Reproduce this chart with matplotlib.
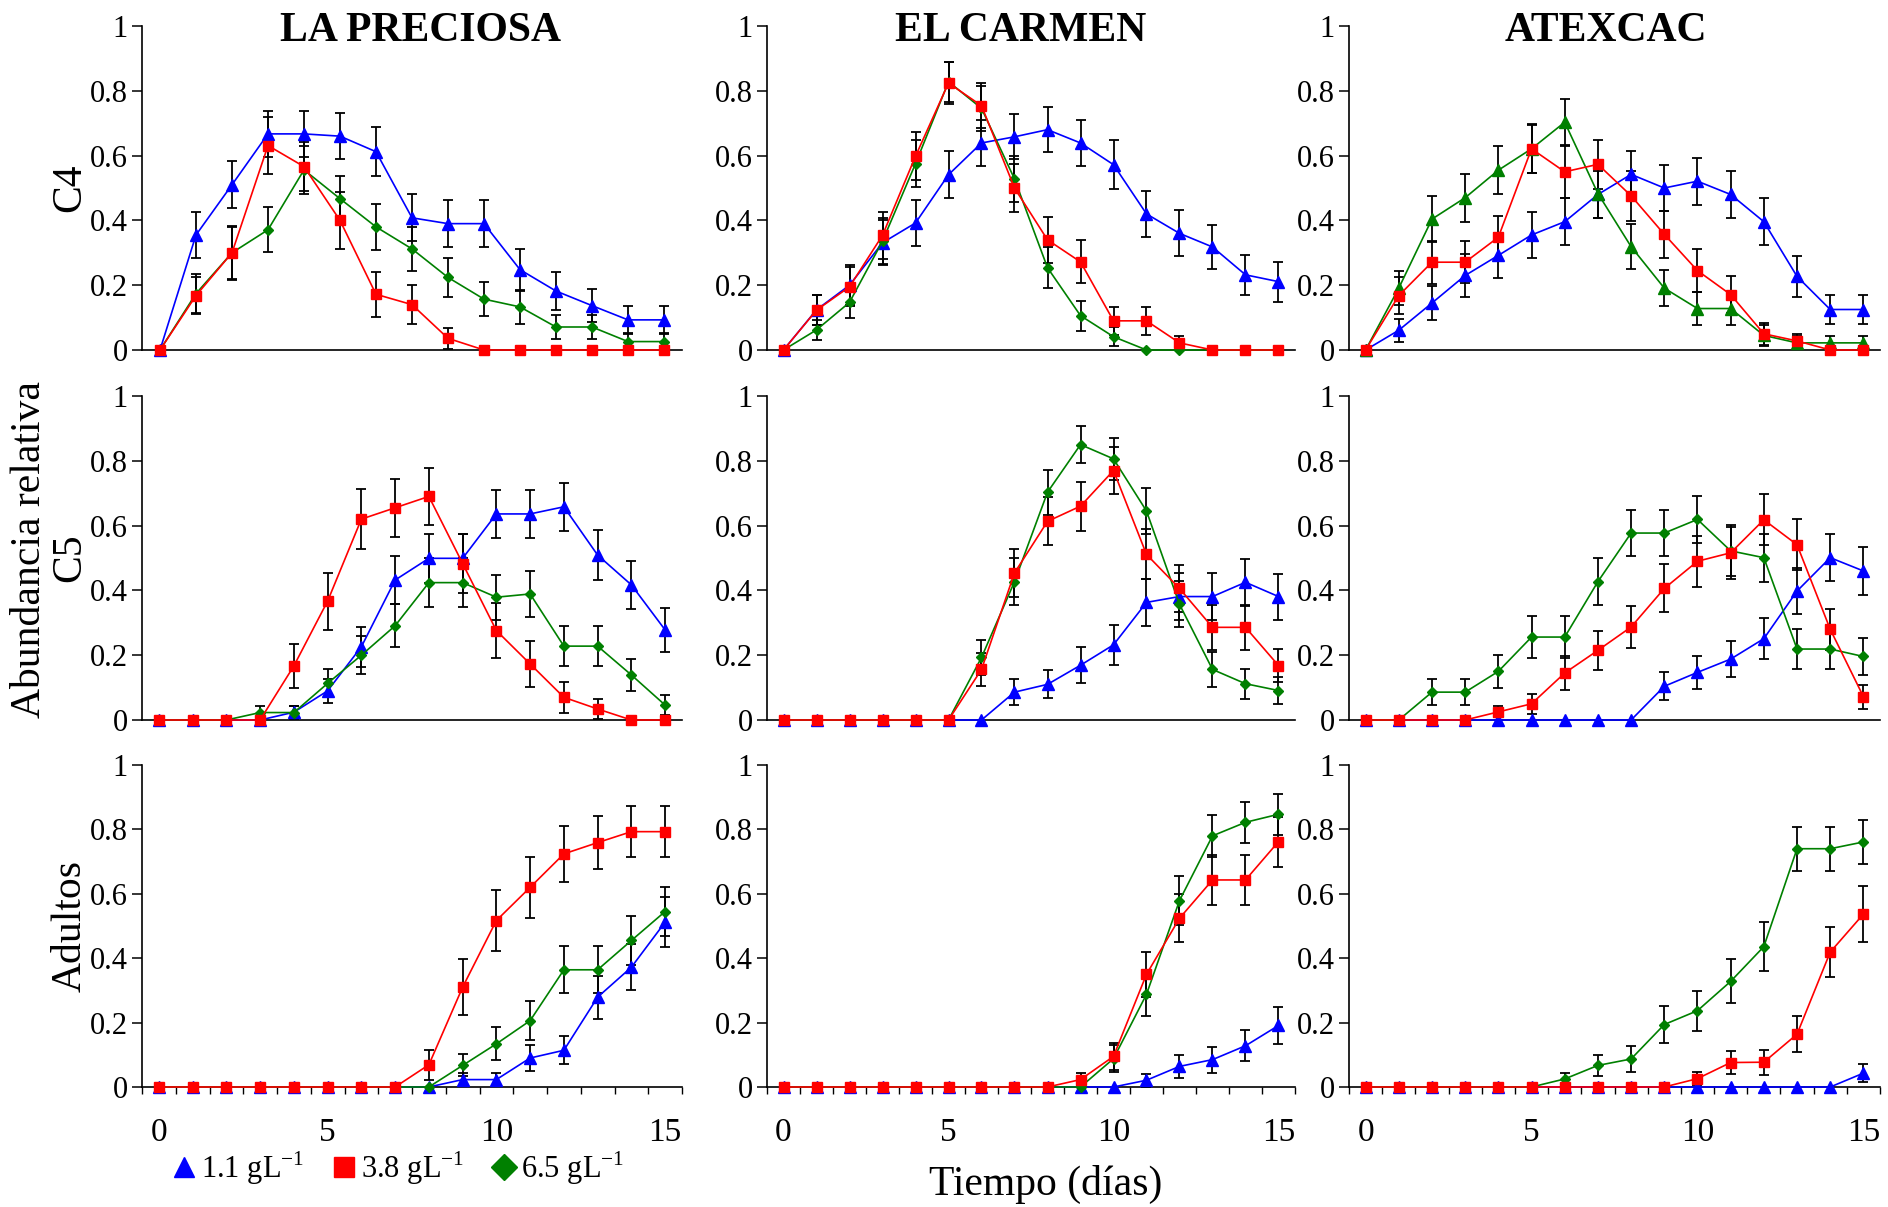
import numpy as np
import matplotlib
matplotlib.use('Agg')
import matplotlib.pyplot as plt
from matplotlib.lines import Line2D
from matplotlib.ticker import FormatStrFormatter

plt.rcParams['font.family'] = ['Liberation Serif', 'DejaVu Serif']
plt.rcParams['mathtext.fontset'] = 'custom'
plt.rcParams['mathtext.rm'] = 'Liberation Serif'

sites = ['LA PRECIOSA', 'EL CARMEN', 'ATEXCAC']
stages = ['C4', 'C5', 'Adultos']
conc_labels = [r'1.1 gL$^{\mathregular{-1}}$', r'3.8 gL$^{\mathregular{-1}}$', r'6.5 gL$^{\mathregular{-1}}$']
x_ticklabels = ['0', '5', '10', '15']

# ---- C4 ----
lp_c4_11 = [0, 0.355, 0.51, 0.667, 0.667, 0.66, 0.612, 0.408, 0.39, 0.39, 0.248, 0.182, 0.137, 0.093, 0.093]
lp_c4_11_err = [0, 0.07, 0.072, 0.072, 0.072, 0.072, 0.075, 0.072, 0.072, 0.072, 0.065, 0.06, 0.05, 0.043, 0.043]
lp_c4_38 = [0, 0.168, 0.30, 0.631, 0.566, 0.40, 0.172, 0.14, 0.036, 0, 0, 0, 0, 0, 0]
lp_c4_38_err = [0, 0.058, 0.084, 0.089, 0.075, 0.088, 0.07, 0.06, 0.033, 0, 0, 0, 0, 0, 0]
lp_c4_65 = [0, 0.174, 0.30, 0.371, 0.556, 0.467, 0.38, 0.312, 0.224, 0.157, 0.133, 0.071, 0.071, 0.026, 0.026]
lp_c4_65_err = [0, 0.06, 0.08, 0.07, 0.075, 0.07, 0.07, 0.068, 0.06, 0.052, 0.052, 0.037, 0.037, 0.025, 0.025]

ec_c4_11 = [0, 0.124, 0.20, 0.331, 0.392, 0.541, 0.639, 0.658, 0.68, 0.639, 0.572, 0.42, 0.36, 0.318, 0.232, 0.211]
ec_c4_11_err = [0, 0.046, 0.062, 0.07, 0.07, 0.073, 0.072, 0.07, 0.07, 0.072, 0.075, 0.072, 0.071, 0.068, 0.062, 0.062]
ec_c4_38 = [0, 0.123, 0.195, 0.354, 0.598, 0.824, 0.754, 0.50, 0.34, 0.272, 0.09, 0.09, 0.022, 0, 0, 0]
ec_c4_38_err = [0, 0.046, 0.06, 0.072, 0.074, 0.064, 0.07, 0.075, 0.07, 0.066, 0.043, 0.043, 0.022, 0, 0, 0]
ec_c4_65 = [0, 0.062, 0.147, 0.336, 0.575, 0.828, 0.746, 0.528, 0.254, 0.106, 0.041, 0, 0, 0, 0, 0]
ec_c4_65_err = [0, 0.03, 0.048, 0.07, 0.072, 0.062, 0.07, 0.072, 0.064, 0.046, 0.03, 0, 0, 0, 0, 0]

at_c4_11 = [0, 0.061, 0.145, 0.23, 0.292, 0.355, 0.396, 0.48, 0.542, 0.50, 0.521, 0.48, 0.396, 0.227, 0.125, 0.125]
at_c4_11_err = [0, 0.035, 0.052, 0.065, 0.069, 0.071, 0.072, 0.074, 0.072, 0.072, 0.072, 0.074, 0.072, 0.062, 0.046, 0.046]
at_c4_38 = [0, 0.168, 0.271, 0.271, 0.348, 0.621, 0.55, 0.573, 0.476, 0.357, 0.245, 0.171, 0.05, 0.028, 0, 0]
at_c4_38_err = [0, 0.056, 0.066, 0.065, 0.066, 0.075, 0.08, 0.075, 0.078, 0.072, 0.066, 0.058, 0.034, 0.02, 0, 0]
at_c4_65 = [0, 0.191, 0.404, 0.47, 0.555, 0.621, 0.703, 0.483, 0.319, 0.191, 0.128, 0.128, 0.045, 0.022, 0.022, 0.022]
at_c4_65_err = [0, 0.053, 0.071, 0.074, 0.074, 0.074, 0.071, 0.075, 0.07, 0.056, 0.05, 0.05, 0.033, 0.02, 0.02, 0.02]

# ---- C5 ----
lp_c5_11 = [0, 0, 0, 0, 0.024, 0.09, 0.226, 0.432, 0.499, 0.499, 0.636, 0.636, 0.658, 0.509, 0.417, 0.278]
lp_c5_11_err = [0, 0, 0, 0, 0.02, 0.038, 0.062, 0.075, 0.075, 0.075, 0.075, 0.075, 0.075, 0.076, 0.074, 0.068]
lp_c5_38 = [0, 0, 0, 0, 0.167, 0.367, 0.62, 0.655, 0.69, 0.483, 0.276, 0.173, 0.07, 0.034, 0, 0]
lp_c5_38_err = [0, 0, 0, 0, 0.068, 0.088, 0.092, 0.09, 0.088, 0.09, 0.084, 0.07, 0.047, 0.032, 0, 0]
lp_c5_65 = [0, 0, 0, 0.023, 0.023, 0.113, 0.2, 0.291, 0.424, 0.424, 0.379, 0.389, 0.228, 0.228, 0.139, 0.046]
lp_c5_65_err = [0, 0, 0, 0.02, 0.02, 0.043, 0.059, 0.067, 0.075, 0.075, 0.07, 0.071, 0.062, 0.062, 0.05, 0.03]

ec_c5_11 = [0, 0, 0, 0, 0, 0, 0, 0.086, 0.11, 0.169, 0.232, 0.363, 0.381, 0.381, 0.425, 0.381]
ec_c5_11_err = [0, 0, 0, 0, 0, 0, 0, 0.04, 0.043, 0.055, 0.061, 0.072, 0.072, 0.072, 0.072, 0.071]
ec_c5_38 = [0, 0, 0, 0, 0, 0, 0.156, 0.454, 0.613, 0.66, 0.77, 0.511, 0.406, 0.286, 0.286, 0.168]
ec_c5_38_err = [0, 0, 0, 0, 0, 0, 0.05, 0.075, 0.074, 0.076, 0.072, 0.077, 0.072, 0.07, 0.07, 0.052]
ec_c5_65 = [0, 0, 0, 0, 0, 0, 0.193, 0.427, 0.703, 0.85, 0.806, 0.645, 0.357, 0.156, 0.112, 0.091]
ec_c5_65_err = [0, 0, 0, 0, 0, 0, 0.053, 0.073, 0.07, 0.058, 0.064, 0.072, 0.071, 0.053, 0.046, 0.043]

at_c5_11 = [0, 0, 0, 0, 0, 0, 0, 0, 0, 0.104, 0.147, 0.188, 0.251, 0.398, 0.501, 0.46]
at_c5_11_err = [0, 0, 0, 0, 0, 0, 0, 0, 0, 0.043, 0.051, 0.056, 0.064, 0.072, 0.072, 0.073]
at_c5_38 = [0, 0, 0, 0, 0.025, 0.05, 0.145, 0.215, 0.287, 0.406, 0.49, 0.516, 0.618, 0.541, 0.28, 0.072]
at_c5_38_err = [0, 0, 0, 0, 0.017, 0.03, 0.051, 0.061, 0.066, 0.074, 0.078, 0.08, 0.079, 0.079, 0.064, 0.037]
at_c5_65 = [0, 0, 0.086, 0.086, 0.15, 0.256, 0.256, 0.427, 0.577, 0.577, 0.619, 0.522, 0.501, 0.219, 0.219, 0.196]
at_c5_65_err = [0, 0, 0.04, 0.04, 0.052, 0.065, 0.065, 0.072, 0.072, 0.072, 0.073, 0.079, 0.074, 0.061, 0.061, 0.058]

# ---- Adultos ----
lp_ad_11 = [0, 0, 0, 0, 0, 0, 0, 0, 0, 0.023, 0.023, 0.09, 0.114, 0.279, 0.372, 0.512]
lp_ad_11_err = [0, 0, 0, 0, 0, 0, 0, 0, 0, 0.02, 0.02, 0.041, 0.044, 0.067, 0.072, 0.077]
lp_ad_38 = [0, 0, 0, 0, 0, 0, 0, 0, 0.069, 0.31, 0.517, 0.62, 0.724, 0.759, 0.793, 0.793]
lp_ad_38_err = [0, 0, 0, 0, 0, 0, 0, 0, 0.046, 0.086, 0.095, 0.094, 0.087, 0.082, 0.079, 0.079]
lp_ad_65 = [0, 0, 0, 0, 0, 0, 0, 0, 0, 0.067, 0.134, 0.206, 0.364, 0.364, 0.455, 0.545]
lp_ad_65_err = [0, 0, 0, 0, 0, 0, 0, 0, 0, 0.034, 0.051, 0.06, 0.073, 0.073, 0.075, 0.075]

ec_ad_11 = [0, 0, 0, 0, 0, 0, 0, 0, 0, 0, 0, 0.021, 0.064, 0.085, 0.128, 0.191]
ec_ad_11_err = [0, 0, 0, 0, 0, 0, 0, 0, 0, 0, 0, 0.02, 0.036, 0.04, 0.048, 0.056]
ec_ad_38 = [0, 0, 0, 0, 0, 0, 0, 0, 0, 0.023, 0.095, 0.35, 0.524, 0.643, 0.643, 0.762]
ec_ad_38_err = [0, 0, 0, 0, 0, 0, 0, 0, 0, 0.02, 0.043, 0.07, 0.075, 0.077, 0.077, 0.078]
ec_ad_65 = [0, 0, 0, 0, 0, 0, 0, 0, 0, 0, 0.088, 0.288, 0.579, 0.78, 0.822, 0.847]
ec_ad_65_err = [0, 0, 0, 0, 0, 0, 0, 0, 0, 0, 0.041, 0.069, 0.075, 0.065, 0.064, 0.063]

at_ad_11 = [0, 0, 0, 0, 0, 0, 0, 0, 0, 0, 0, 0, 0, 0, 0, 0.043]
at_ad_11_err = [0, 0, 0, 0, 0, 0, 0, 0, 0, 0, 0, 0, 0, 0, 0, 0.028]
at_ad_38 = [0, 0, 0, 0, 0, 0, 0, 0, 0, 0, 0.026, 0.076, 0.077, 0.164, 0.419, 0.537]
at_ad_38_err = [0, 0, 0, 0, 0, 0, 0, 0, 0, 0, 0.02, 0.037, 0.039, 0.056, 0.077, 0.088]
at_ad_65 = [0, 0, 0, 0, 0, 0, 0.025, 0.067, 0.087, 0.194, 0.237, 0.328, 0.436, 0.74, 0.74, 0.761]
at_ad_65_err = [0, 0, 0, 0, 0, 0, 0.02, 0.033, 0.04, 0.058, 0.062, 0.068, 0.075, 0.068, 0.068, 0.068]

panels = [
    [(lp_c4_11, lp_c4_11_err, lp_c4_38, lp_c4_38_err, lp_c4_65, lp_c4_65_err),
     (ec_c4_11, ec_c4_11_err, ec_c4_38, ec_c4_38_err, ec_c4_65, ec_c4_65_err),
     (at_c4_11, at_c4_11_err, at_c4_38, at_c4_38_err, at_c4_65, at_c4_65_err)],
    [(lp_c5_11, lp_c5_11_err, lp_c5_38, lp_c5_38_err, lp_c5_65, lp_c5_65_err),
     (ec_c5_11, ec_c5_11_err, ec_c5_38, ec_c5_38_err, ec_c5_65, ec_c5_65_err),
     (at_c5_11, at_c5_11_err, at_c5_38, at_c5_38_err, at_c5_65, at_c5_65_err)],
    [(lp_ad_11, lp_ad_11_err, lp_ad_38, lp_ad_38_err, lp_ad_65, lp_ad_65_err),
     (ec_ad_11, ec_ad_11_err, ec_ad_38, ec_ad_38_err, ec_ad_65, ec_ad_65_err),
     (at_ad_11, at_ad_11_err, at_ad_38, at_ad_38_err, at_ad_65, at_ad_65_err)],
]

colors = ['#0000FF', '#FF0000', '#008000']
markers = ['^', 's', 'D']
msizes = [8, 7.5, 5.5]
draw_order = [0, 2, 1]   # red drawn on top

W, H = 1888, 1207
fig = plt.figure(figsize=(W / 100, H / 100), dpi=100)

col_px = [(142, 682), (767, 1295), (1349, 1880)]
row_px = [(26, 350), (396, 720), (765, 1087)]
title_x = [0.515, 0.48, 0.484]

for r in range(3):
    for c in range(3):
        x0, x1 = col_px[c]
        y0, y1 = row_px[r]
        ax = fig.add_axes([x0 / W, 1 - y1 / H, (x1 - x0) / W, (y1 - y0) / H])
        data = panels[r][c]
        n = len(data[0])
        x = np.arange(n)
        for s in draw_order:
            y = np.array(data[2 * s])
            e = np.array(data[2 * s + 1])
            mk = markers[s]
            if r == 0 and c == 2 and s == 2:
                mk = '^'   # this panel uses triangles for 6.5 g/L
            m = e > 0
            ax.errorbar(x[m], y[m], yerr=e[m], fmt='none', ecolor='black',
                        elinewidth=1.3, capsize=3.5, capthick=1.3, zorder=3, clip_on=False)
            ax.plot(x, y, color=colors[s], marker=mk, markersize=msizes[s] if mk != '^' or s == 0 else 8,
                    linewidth=1.2, zorder=4, clip_on=False)
        ax.set_xlim(-0.5, n - 0.5)
        ax.set_ylim(0, 1)
        ax.set_yticks(np.arange(0, 1.01, 0.2))
        ax.yaxis.set_major_formatter(FormatStrFormatter('%g'))
        ax.spines['top'].set_visible(False)
        ax.spines['right'].set_visible(False)
        ax.spines['left'].set_linewidth(1.2)
        ax.spines['bottom'].set_linewidth(1.2)
        ax.tick_params(axis='y', direction='out', length=7, width=1.1, labelsize=22, pad=3)
        if r == 2:
            ax.set_xticks([0, 5, 10, 15])
            ax.set_xticklabels(x_ticklabels)
            ax.set_xticks(np.arange(-0.5, n, 1), minor=True)
            ax.tick_params(axis='x', which='major', length=0, labelsize=24, pad=22)
            ax.tick_params(axis='x', which='minor', direction='out', length=5, width=1.0)
        else:
            ax.set_xticks([])
        if r == 0:
            ax.text(title_x[c], 0.985, sites[c], transform=ax.transAxes, ha='center', va='center',
                    fontsize=30, fontweight='bold')

for r in range(3):
    yc = (row_px[r][0] + row_px[r][1]) / 2
    fig.text(70 / W, 1 - yc / H, stages[r], rotation=90, ha='center', va='center', fontsize=30)

fig.text(30 / W, 1 - 549 / H, 'Abundancia relativa', rotation=90, ha='center', va='center', fontsize=30)
fig.text(1046 / W, 1 - 1184 / H, 'Tiempo (días)', ha='center', va='center', fontsize=30)

handles = [Line2D([], [], linestyle='none', marker=markers[i], color=colors[i],
                  markersize=[15, 15, 13][i]) for i in range(3)]
fig.legend(handles, conc_labels, loc='center left', bbox_to_anchor=(172 / W, 1 - 1168 / H),
           ncol=3, frameon=False, fontsize=22, handlelength=0.8, handletextpad=0.15,
           columnspacing=0.9, borderaxespad=0, borderpad=0)

fig.savefig('out.png', dpi=100)
